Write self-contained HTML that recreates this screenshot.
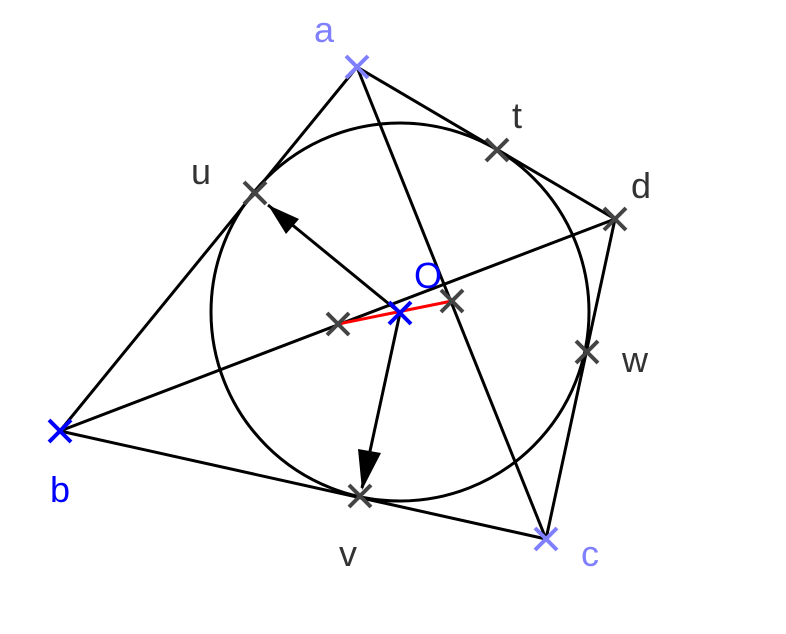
<!DOCTYPE html>
<html><head><meta charset="utf-8"><style>
html,body{margin:0;padding:0;background:#fff;}
svg{display:block;}
text{font-family:"Liberation Sans",sans-serif;font-size:36px;}
</style></head><body>
<svg width="786" height="634" viewBox="0 0 786 634" xmlns="http://www.w3.org/2000/svg">
<g stroke="#000" stroke-width="3" fill="none">
<circle cx="400" cy="312" r="189"/>
<line x1="357" y1="67" x2="60" y2="431"/>
<line x1="357" y1="67" x2="615" y2="219"/>
<line x1="357" y1="67" x2="546" y2="539"/>
<line x1="60" y1="431" x2="615" y2="219"/>
<line x1="60" y1="431" x2="546" y2="539"/>
<line x1="546" y1="539" x2="615" y2="219"/>
<line x1="400" y1="313" x2="268" y2="205"/>
<line x1="400" y1="313" x2="362" y2="488"/>
</g>
<polygon points="268,205 299,219 286,234" fill="#000"/>
<polygon points="362,490 358,449 381,453" fill="#000"/>
<line x1="338" y1="324" x2="452" y2="301" stroke="#f00" stroke-width="3"/>
<g stroke="#444" stroke-width="4">
<path d="M486,139l22,22M508,139l-22,22"/>
<path d="M244,182l22,22M266,182l-22,22"/>
<path d="M349,485l22,22M371,485l-22,22"/>
<path d="M576,341l22,22M598,341l-22,22"/>
<path d="M604,208l22,22M626,208l-22,22"/>
<path d="M327,313l22,22M349,313l-22,22"/>
<path d="M441,290l22,22M463,290l-22,22"/>
</g>
<g stroke="#8080ff" stroke-width="4">
<path d="M346,56l22,22M368,56l-22,22"/>
<path d="M535,528l22,22M557,528l-22,22"/>
</g>
<g stroke="#0000ff" stroke-width="4">
<path d="M49,420l22,22M71,420l-22,22"/>
<path d="M389,302l22,22M411,302l-22,22"/>
</g>
<text x="314" y="42" fill="#8080ff">a</text>
<text x="50" y="502" fill="#0000ff">b</text>
<text x="581" y="566" fill="#8080ff">c</text>
<text x="631" y="198" fill="#333">d</text>
<text x="512" y="128" fill="#333">t</text>
<text x="191" y="184" fill="#333">u</text>
<text x="339" y="566" fill="#333">v</text>
<text x="622" y="372" fill="#333">w</text>
<text x="414" y="288" fill="#0000ff">O</text>
</svg>
</body></html>
